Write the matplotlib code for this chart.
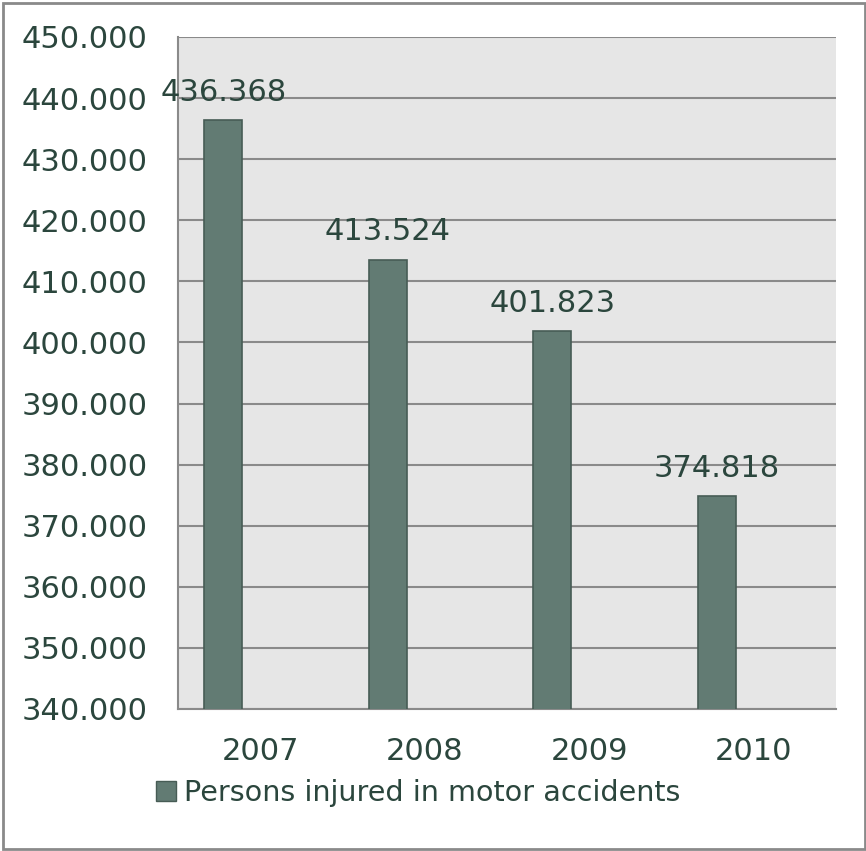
import matplotlib
matplotlib.use("Agg")
import matplotlib.pyplot as plt
from matplotlib.patches import Patch, Rectangle
from matplotlib.ticker import FuncFormatter

years = ["2007", "2008", "2009", "2010"]
injured = [436368, 413524, 401823, 374818]
series_name = "Persons injured in motor accidents"

plt.rcParams['font.family'] = ['DejaVu Sans']
txt = '#2b463d'
bar_c = '#627b73'
edge_c = '#475c55'

fig = plt.figure(figsize=(8.66, 8.51), dpi=100)
ax = fig.add_axes([178/866, 1-709/851, (836-178)/866, (709-37)/851])
ax.set_facecolor('#e6e6e6')

x = list(range(len(years)))
bx = [i - 0.225 for i in x]
bars = ax.bar(bx, injured, width=0.23, color=bar_c, edgecolor=edge_c, linewidth=1.2, zorder=3)

ax.set_xlim(-0.5, 3.5)
ax.set_ylim(340000, 450000)
ax.set_yticks(range(340000, 450001, 10000))
ax.yaxis.set_major_formatter(FuncFormatter(lambda v, p: f"{int(v):,}".replace(',', '.')))
ax.set_xticks(x)
ax.set_xticklabels(years)
ax.tick_params(axis='both', length=0, labelsize=22, colors=txt)
ax.tick_params(axis='y', pad=22)
ax.tick_params(axis='x', pad=20)
ax.grid(axis='y', color='#8a8a8a', linewidth=1.5, zorder=1)
ax.set_axisbelow(True)
for s in ['top', 'right']:
    ax.spines[s].set_visible(False)
for s in ['left', 'bottom']:
    ax.spines[s].set_color('#8a8a8a')
    ax.spines[s].set_linewidth(1.5)

for xi, v in zip(bx, injured):
    ax.annotate(f"{v:,}".replace(',', '.'), (xi, v), xytext=(0, 14), textcoords='offset points',
                ha='center', va='baseline', fontsize=22, color=txt, zorder=4)

fig.legend(handles=[Patch(facecolor=bar_c, edgecolor=edge_c, linewidth=1)], labels=[series_name],
           loc='center', bbox_to_anchor=(0.483, 0.068), frameon=False, fontsize=20.6,
           handlelength=0.7, handleheight=0.7, handletextpad=0.3, labelcolor=txt)

fig.patches.append(Rectangle((3/866, 2/851), 862/866, 846/851, transform=fig.transFigure,
                             fill=False, edgecolor='#8a8a8a', linewidth=2))

fig.savefig('out.png', dpi=100)
